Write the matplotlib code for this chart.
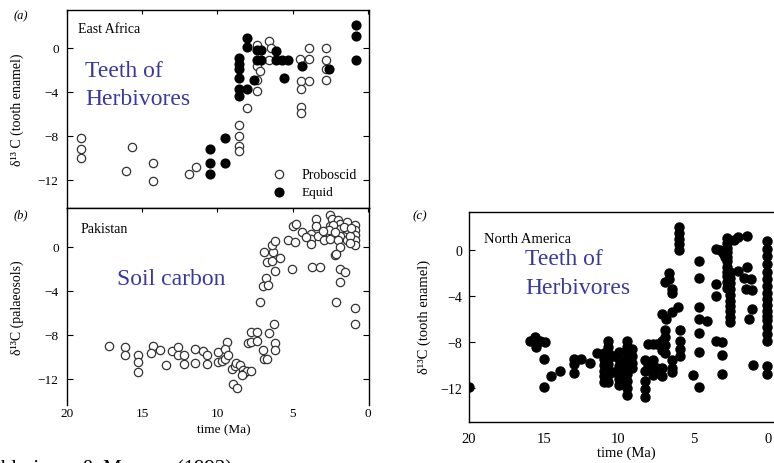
import matplotlib
matplotlib.use('Agg')
import matplotlib.pyplot as plt

plt.rcParams['font.family'] = ['Liberation Serif', 'DejaVu Serif']

# (a) East Africa, tooth enamel
prob_ma = [19.1, 19.1, 19.1, 15.7, 16.1, 14.3, 14.3, 11.9, 11.4,
           8.55, 8.55, 8.55, 8.55, 8.05, 7.4, 7.4, 7.4, 7.2, 7.35,
           6.6, 6.45, 6.55, 4.5, 4.45, 4.45, 4.45, 4.45, 3.95, 3.95,
           3.9, 2.8, 2.8, 2.8, 2.8]
prob_d13c = [-8.2, -9.2, -10.0, -9.0, -11.2, -10.5, -12.1, -11.5, -10.8,
             -7.0, -8.0, -8.9, -9.4, -5.45, -3.9, -2.9, -1.65, -2.1, 0.27,
             0.6, 0.0, -1.1, -1.0, -3.0, -3.7, -5.4, -5.9, 0.0, -1.0,
             -3.0, 0.0, -1.05, -1.9, -2.9]
equid_ma = [10.5, 10.5, 10.5, 9.5, 9.5, 8.55, 8.55, 8.55, 8.55, 8.55, 8.55,
            8.05, 8.05, 8.05, 7.6, 7.35, 7.1, 7.35, 7.1, 6.1, 6.1, 5.7, 5.3,
            5.55, 4.4, 2.6, 0.8, 0.8, 0.8]
equid_d13c = [-9.2, -10.5, -11.5, -8.2, -10.5, -0.9, -1.45, -1.9, -2.7, -3.7, -4.4,
              0.9, 0.05, -3.7, -2.9, -0.15, -0.15, -1.1, -1.1, -0.25, -1.1, -1.1, -1.1,
              -2.75, -1.65, -1.9, 2.1, 1.1, -1.05]

# (b) Pakistan, palaeosols
soil_ma = [17.2, 16.15, 16.15, 15.25, 15.25, 15.25, 14.3, 14.4, 13.8, 13.4,
           13.0, 12.6, 12.6, 12.2, 12.2, 11.5, 11.5, 10.95, 10.7, 10.7,
           9.95, 9.95, 9.7, 9.5, 9.4, 9.5, 9.3, 9.05, 8.85, 8.75,
           8.5, 8.3, 8.3, 8.05, 8.4, 7.8, 8.95, 8.7, 8.0, 7.8,
           7.8, 7.35, 7.35, 7.0, 6.9, 6.7, 6.55, 6.25, 6.2, 6.2,
           7.2, 6.95, 6.8, 6.65, 6.2, 6.9, 6.7, 6.4, 6.3, 6.4,
           6.2, 5.85, 5.3, 5.05, 4.85, 4.95, 4.75, 4.4, 3.8, 3.8,
           3.8, 3.45, 3.45, 3.3, 2.9, 3.7, 3.2, 2.5, 2.4, 2.5,
           2.5, 2.5, 2.0, 1.85, 1.85, 1.85, 2.0, 1.85, 1.4, 1.4,
           1.4, 2.2, 0.85, 0.85, 0.85, 0.85, 0.85, 1.85, 1.5, 1.85,
           2.1, 0.85, 0.85, 2.1, 2.3, 2.6, 1.6, 1.2, 2.2, 3.0,
           4.1, 1.1, 1.2]
soil_d13c = [-9.05, -9.15, -9.9, -9.85, -10.5, -11.4, -9.0, -9.7, -9.4, -10.8,
             -9.5, -9.1, -9.9, -9.9, -10.7, -9.3, -10.6, -9.5, -9.9, -10.7,
             -9.6, -10.5, -10.4, -10.2, -8.7, -9.3, -9.85, -11.1, -10.85, -10.6,
             -10.8, -11.2, -11.6, -11.35, -11.7, -11.3, -12.5, -12.9, -8.8, -7.8,
             -8.7, -7.8, -8.6, -9.4, -10.2, -10.2, -7.9, -7.0, -8.75, -9.4,
             -5.0, -3.6, -2.9, -3.5, -2.2, -0.5, -1.4, -1.3, -0.5, 0.1,
             0.5, -1.0, 0.6, -2.0, 0.45, 1.9, 2.05, 1.3, 1.15, 0.7,
             0.2, 2.5, 1.85, 1.0, 0.55, -1.9, -1.9, 2.9, 2.5, 1.9,
             1.15, 0.7, 2.4, 2.05, 1.6, 1.0, 0.55, -0.05, 2.2, 1.6,
             0.55, -0.8, 2.0, 1.5, 1.05, 0.6, 0.1, -2.0, -2.3, -3.2,
             -5.05, -5.6, -7.0, -0.7, 2.0, 1.5, 1.8, 1.0, 1.3, 1.4,
             0.9, 1.7, 0.3]

# (c) North America, tooth enamel
na_ma = [20.0, 15.9, 15.6, 15.25, 14.9, 15.5, 15.0, 15.0, 14.5, 13.9,
         13.0, 13.0, 13.0, 12.5, 11.9, 11.45,
         10.95, 10.95, 10.95, 10.95, 10.95, 10.95,
         10.7, 10.7, 10.7, 10.7, 10.7, 10.7, 10.7, 10.7,
         10.4, 10.4,
         10.0, 10.0, 10.0, 10.0, 10.0, 10.0,
         9.7, 9.7,
         9.45, 9.45, 9.45, 9.45, 9.45, 9.45, 9.45, 9.45, 9.45,
         9.1, 9.1, 9.1, 9.1,
         8.2, 8.2, 8.2, 8.2, 8.2,
         8.0, 8.0,
         7.67, 7.67, 7.67, 7.67,
         7.4, 7.4,
         7.1, 7.1, 7.1, 7.1, 7.1,
         6.9, 6.9, 6.9, 6.9, 6.9,
         6.8, 6.6, 6.6,
         6.45, 6.45, 6.45, 6.45, 6.45, 6.45,
         6.0, 5.95, 5.95, 5.95, 5.95, 5.95,
         5.9, 5.9, 5.9, 5.9,
         5.0,
         4.6, 4.6, 4.6, 4.6, 4.6, 4.6, 4.6,
         4.1,
         3.5, 3.5, 3.5, 3.5,
         3.1, 3.1, 3.1,
         3.2, 3.0, 2.85,
         2.75, 2.75, 2.75, 2.75, 2.75, 2.75, 2.75, 2.75, 2.75, 2.75, 2.75,
         2.55, 2.55, 2.55, 2.55, 2.55, 2.55, 2.55, 2.55, 2.55, 2.55,
         2.3, 2.0, 2.0, 1.4, 1.4, 1.6, 1.15, 1.45, 1.1, 1.1, 1.3, 1.0,
         0.1, 0.1, 0.1, 0.1, 0.1, 0.1, 0.1, 0.1, 0.1, 0.1,
         0.1, 0.1, 0.1, 0.1, 0.1, 0.1, 0.1, 0.1]
na_d13c = [-11.9, -7.9, -7.6, -7.9, -8.0, -8.45, -9.5, -11.9, -11.0, -10.5,
           -9.5, -9.9, -10.7, -9.5, -9.8, -9.0,
           -9.0, -9.5, -10.0, -10.5, -11.0, -11.5,
           -7.9, -8.4, -8.9, -9.4, -9.9, -10.4, -10.9, -11.5,
           -9.2, -10.6,
           -8.9, -9.5, -10.1, -10.6, -11.2, -11.7,
           -9.9, -10.8,
           -7.9, -8.4, -9.0, -9.6, -10.2, -10.8, -11.4, -12.0, -12.6,
           -8.6, -9.2, -9.8, -10.3,
           -9.6, -10.5, -11.4, -12.1, -12.8,
           -8.2, -10.0,
           -8.2, -9.6, -10.3, -10.9,
           -8.2, -10.3,
           -5.6, -7.9, -8.7, -10.3, -11.0,
           -2.8, -7.0, -7.6, -8.3, -9.0,
           -6.0, -2.0, -2.5,
           -3.4, -3.7, -5.4, -9.6, -10.3, -10.6,
           -5.0, 2.0, 1.5, 0.95, 0.5, 0.0,
           -7.0, -7.9, -8.6, -9.2,
           -10.9,
           -1.0, -2.4, -5.0, -6.0, -7.2, -8.9, -11.9,
           -6.15,
           0.05, -2.95, -4.0, -7.9,
           -8.0, -9.1, -10.8,
           0.0, -0.3, -0.6,
           1.0, 0.6, 0.2, -0.2, -0.6, -1.0, -1.5, -1.9, -2.3, -2.8, -3.3,
           -1.9, -2.4, -2.9, -3.4, -3.9, -4.4, -4.9, -5.3, -5.8, -6.3,
           0.9, 1.1, -1.8, 1.25, -1.5, -2.4, -2.5, -3.4, -3.5, -5.1, -6.0, -10.0,
           0.8, 0.1, -0.5, -1.2, -1.9, -2.5, -3.1, -3.7, -4.3, -4.8,
           -5.3, -5.7, -6.1, -6.7, -7.3, -7.9, -10.1, -10.8]

ma_ticks = [20, 15, 10, 5, 0]
d13c_ticks = [0, -4, -8, -12]
blue = '#3a3a9e'

W, H = 774, 464
fig = plt.figure(figsize=(W / 100, H / 100), dpi=100)


def box(l, t, r, b):
    return [l / W, 1 - b / H, (r - l) / W, (b - t) / H]


def style(ax, size):
    ax.set_yticks(d13c_ticks)
    ax.set_yticklabels(['0', '\u22124', '\u22128', '\u221212'])
    ax.set_xticks(ma_ticks)
    for s in ax.spines.values():
        s.set_linewidth(1.0)
    ax.tick_params(axis='y', direction='in', length=4, labelsize=size, pad=6,
                   left=True, right=True)


ax_a = fig.add_axes(box(67, 11, 369, 209))
ax_b = fig.add_axes(box(67, 209, 369, 406))
ax_c = fig.add_axes(box(469, 213, 777, 423))

# panel a
ax_a.plot(prob_ma, prob_d13c, 'o', ms=6, mfc='white', mec='#333333', mew=0.9)
ax_a.plot(equid_ma, equid_d13c, 'o', ms=6.3, color='black')
ax_a.set_xlim(20, -0.07)
ax_a.set_ylim(-14.55, 3.45)
style(ax_a, 9.5)
ax_a.tick_params(axis='x', direction='in', length=3, top=True, bottom=False,
                 labelbottom=False)
ax_a.text(0.035, 0.89, 'East Africa', transform=ax_a.transAxes, fontsize=10)
ax_a.plot([5.9], [-11.5], 'o', ms=6, mfc='white', mec='#333333', mew=0.9)
ax_a.plot([5.9], [-13.1], 'o', ms=6.3, color='black')
ax_a.text(4.4, -11.5, 'Proboscid', fontsize=10, va='center')
ax_a.text(4.4, -13.1, 'Equid', fontsize=9.5, va='center')

# panel b
ax_b.plot(soil_ma, soil_d13c, 'o', ms=6, mfc='white', mec='#333333', mew=0.9)
ax_b.set_xlim(20, -0.07)
ax_b.set_ylim(-14.4, 3.5)
style(ax_b, 9.5)
ax_b.spines['bottom'].set_visible(False)
ax_b.tick_params(axis='x', direction='in', length=3, top=True, bottom=False,
                 labelsize=9.5, pad=1.5)
ax_b.text(0.045, 0.88, 'Pakistan', transform=ax_b.transAxes, fontsize=10)

# panel c
ax_c.plot(na_ma, na_d13c, 'o', ms=6.5, color='black')
ax_c.set_xlim(20, -0.6)
ax_c.set_ylim(-14.96, 3.3)
style(ax_c, 10)
ax_c.tick_params(axis='y', right=False, pad=5)
ax_c.tick_params(axis='x', direction='in', length=0, labelsize=10.5, pad=7)
ax_c.text(0.05, 0.855, 'North America', transform=ax_c.transAxes, fontsize=10.5)

# labels
fig.text(14 / W, 1 - 16 / H, '(a)', fontsize=9, style='italic', va='center')
fig.text(14 / W, 1 - 215 / H, '(b)', fontsize=9, style='italic', va='center')
fig.text(413 / W, 1 - 216 / H, '(c)', fontsize=9.5, style='italic', va='center')
fig.text(17 / W, 1 - 110 / H, '\u03b4\u00b9\u00b3 C (tooth enamel)', rotation=90,
         fontsize=10, ha='center', va='center')
fig.text(17 / W, 1 - 308 / H, '\u03b4\u00b9\u00b3C (palaeosols)', rotation=90,
         fontsize=10, ha='center', va='center')
fig.text(424 / W, 1 - 317 / H, '\u03b4\u00b9\u00b3C (tooth enamel)', rotation=90,
         fontsize=10.5, ha='center', va='center')
fig.text(224 / W, 1 - 430 / H, 'time (Ma)', fontsize=9.5, ha='center', va='center')
fig.text(626 / W, 1 - 453 / H, 'time (Ma)', fontsize=10.5, ha='center', va='center')

# blue annotations
fig.text(85 / W, 1 - 77 / H, 'Teeth of', color=blue, fontsize=17, va='baseline')
fig.text(85 / W, 1 - 105 / H, 'Herbivores', color=blue, fontsize=17, va='baseline')
fig.text(117 / W, 1 - 285 / H, 'Soil carbon', color=blue, fontsize=17, va='baseline')
fig.text(525 / W, 1 - 265 / H, 'Teeth of', color=blue, fontsize=17, va='baseline')
fig.text(525 / W, 1 - 294 / H, 'Herbivores', color=blue, fontsize=17, va='baseline')

# citation, cut off at the bottom edge
fig.text(-12 / W, 1 - 474 / H, 'Ehleringer & Monson (1993)', fontsize=15, va='baseline')

fig.savefig('out.png', dpi=100)
